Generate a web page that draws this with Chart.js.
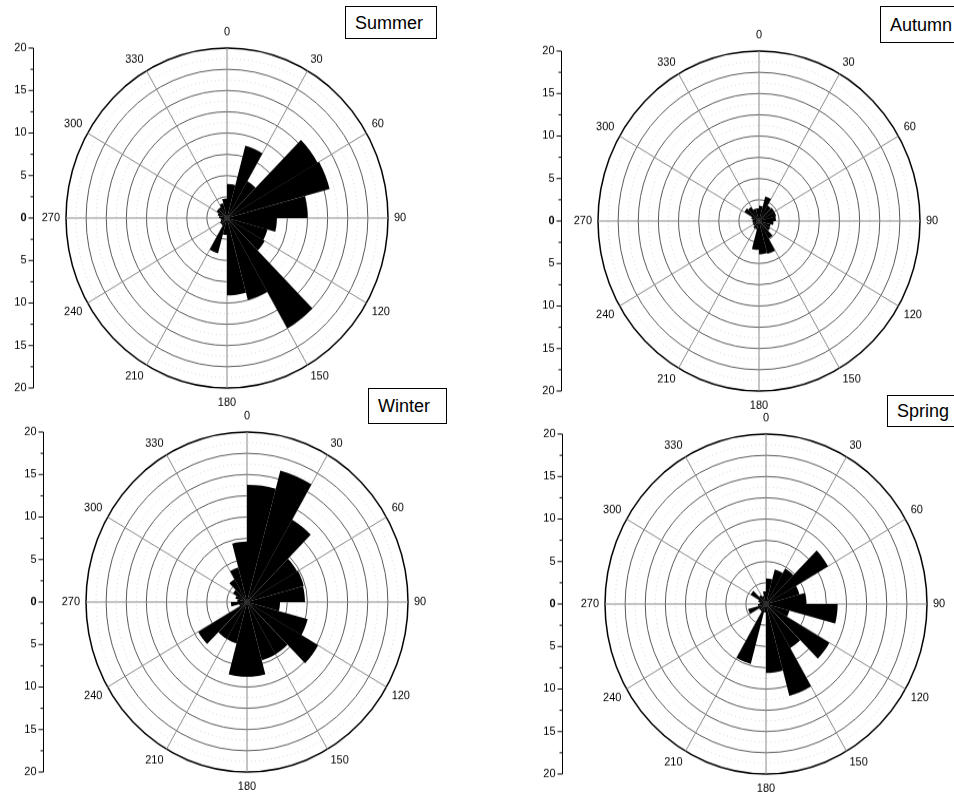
<!DOCTYPE html>
<html>
<head>
<meta charset="utf-8">
<script src="https://cdn.jsdelivr.net/npm/chart.js@4.4.0/dist/chart.umd.min.js"></script>
<style>
html, body { margin: 0; padding: 0; background: #fff; overflow: hidden; }
body { width: 954px; height: 793px; position: relative; font-family: "Liberation Sans", Arial, sans-serif; }
canvas.rose { position: absolute; }
.tag { position: absolute; border: 1px solid #000; background: #fff; font-size: 18px; line-height: 1; color: #000;
       box-sizing: border-box; display: flex; align-items: center; padding-left: 9px; white-space: nowrap; }
</style>
</head>
<body>
<script>
// sector start angles (15 degree sectors, clockwise from north)
var sectorStarts = [0, 15, 30, 45, 60, 75, 90, 105, 120, 135, 150, 165,
                    180, 195, 210, 225, 240, 255, 270, 285, 300, 315, 330, 345];
var angleTicks = [0, 30, 60, 90, 120, 150, 180, 210, 240, 270, 300, 330];
var axisTicks = [-20, -15, -10, -5, 0, 5, 10, 15, 20];

var summer = [4.0, 8.8, 5.0, 13.0, 13.2, 10.0, 6.2, 5.2, 5.4, 15.0, 10.0, 9.1,
              2.0, 4.3, 1.0, 1.0, 0.8, 0.8, 1.0, 1.2, 1.5, 1.5, 1.8, 2.3];
var autumn = [1.8, 3.0, 2.1, 2.2, 2.2, 2.1, 1.8, 1.5, 1.6, 2.4, 4.0, 3.9,
              3.4, 1.0, 1.0, 0.8, 0.8, 0.8, 0.8, 1.0, 2.1, 1.9, 1.5, 1.5];
var winter = [13.8, 16.0, 11.2, 7.2, 7.3, 7.2, 4.1, 7.8, 10.2, 7.1, 7.1, 8.8,
              8.8, 5.0, 5.0, 7.0, 1.0, 2.0, 1.2, 1.5, 2.0, 3.1, 4.2, 7.1];
var spring = [3.0, 4.2, 4.8, 8.9, 4.3, 5.0, 8.9, 3.0, 9.1, 6.0, 11.2, 8.1,
              1.0, 7.3, 1.0, 1.0, 2.3, 1.0, 0.8, 1.0, 2.2, 1.2, 1.0, 1.5];

var R = 161;            // horizontal radius of the rose
var k = 170 / 161;      // vertical stretch of the original plot
var W = 480, H = 382, PAD = 30;

var panels = [
  { name: 'Summer', data: summer, cx: 227, cy: 218, axisGap: 194, box: [345, 6, 92, 33] },
  { name: 'Autumn', data: autumn, cx: 759, cy: 221, axisGap: 198, box: [880, 6, 90, 37] },
  { name: 'Winter', data: winter, cx: 247, cy: 602, axisGap: 204, box: [368, 388, 79, 36] },
  { name: 'Spring', data: spring, cx: 766, cy: 604, axisGap: 204, box: [887, 395, 80, 32] }
];

function putText(ctx, txt, x, y, align, base) {
  ctx.save();
  ctx.translate(x, y);
  ctx.scale(1, 1 / k);
  ctx.textAlign = align;
  ctx.textBaseline = base;
  ctx.fillText(txt, 0, 0);
  ctx.restore();
}

var roseDecor = {
  id: 'roseDecor',
  afterDraw: function (chart, args, opts) {
    var s = chart.scales.r, ctx = chart.ctx;
    var cx = s.xCenter, cy = s.yCenter;
    ctx.save();
    ctx.fillStyle = '#000';
    ctx.strokeStyle = '#000';
    ctx.lineWidth = 1;

    // left radius axis
    var ax = Math.round(cx - opts.axisGap) + 0.5;
    var yOf = function (v) {
      var d = s.getDistanceFromCenterForValue(Math.abs(v));
      return cy + (v < 0 ? -d : d);
    };
    ctx.beginPath();
    ctx.moveTo(ax, yOf(axisTicks[0]));
    ctx.lineTo(ax, yOf(axisTicks[axisTicks.length - 1]));
    ctx.stroke();
    axisTicks.forEach(function (v, i) {
      var y = yOf(v);
      ctx.beginPath();
      ctx.moveTo(ax - 5, y);
      ctx.lineTo(ax, y);
      ctx.stroke();
      if (i < axisTicks.length - 1) {
        var ym = yOf((v + axisTicks[i + 1]) / 2);
        ctx.beginPath();
        ctx.moveTo(ax - 3, ym);
        ctx.lineTo(ax, ym);
        ctx.stroke();
      }
      ctx.font = (v === 0 ? 'bold ' : '') + '11px "Liberation Sans", Arial, sans-serif';
      putText(ctx, String(Math.abs(v)), ax - 7, y, 'right', 'middle');
    });

    // angle labels
    ctx.font = '11px "Liberation Sans", Arial, sans-serif';
    angleTicks.forEach(function (a) {
      var idx = sectorStarts.indexOf(a);
      var p = s.getPointPosition(idx, s.drawingArea + 6);
      var align = (a === 0 || a === 180) ? 'center' : (a < 180 ? 'left' : 'right');
      var base = (a === 90 || a === 270) ? 'middle' : ((a < 90 || a > 270) ? 'bottom' : 'top');
      if (a === 0) p.y -= 4;
      if (a === 180) p.y += 3;
      putText(ctx, String(a), p.x, p.y, align, base);
    });
    ctx.restore();
  }
};

panels.forEach(function (p) {
  var cv = document.createElement('canvas');
  cv.className = 'rose';
  cv.width = W;
  cv.height = H;
  cv.style.width = W + 'px';
  cv.style.height = H + 'px';
  cv.style.left = (p.cx - W / 2) + 'px';
  cv.style.top = (p.cy - (PAD + R)) + 'px';
  cv.style.transformOrigin = '0 ' + (PAD + R) + 'px';
  cv.style.transform = 'scaleY(' + k + ')';
  document.body.appendChild(cv);

  new Chart(cv.getContext('2d'), {
    type: 'polarArea',
    data: {
      labels: sectorStarts.map(String),
      datasets: [{
        data: p.data,
        backgroundColor: '#000',
        borderWidth: 0
      }]
    },
    options: {
      responsive: false,
      animation: false,
      events: [],
      layout: { padding: { left: W / 2 - R, right: W / 2 - R, top: PAD, bottom: PAD } },
      plugins: {
        legend: { display: false },
        tooltip: { enabled: false },
        roseDecor: { axisGap: p.axisGap }
      },
      scales: {
        r: {
          min: 0,
          max: 20,
          startAngle: 0,
          ticks: { display: false, stepSize: 1.25 },
          pointLabels: { display: false },
          grid: {
            circular: true,
            color: function (c) { return c.tick.value === 20 ? '#000' : (c.index % 2 ? '#d4d4d4' : '#5a5a5a'); },
            lineWidth: function (c) { return c.tick.value === 20 ? 1.5 : 1; }
          },
          border: {
            dash: function (c) { return c.index % 2 ? [1, 3] : []; }
          },
          angleLines: {
            display: true,
            color: '#8a8a8a',
            lineWidth: function (c) { return c.index % 2 ? 0 : 1; }
          }
        }
      }
    },
    plugins: [roseDecor]
  });

  var tag = document.createElement('div');
  tag.className = 'tag';
  tag.textContent = p.name;
  tag.style.left = p.box[0] + 'px';
  tag.style.top = p.box[1] + 'px';
  tag.style.width = p.box[2] + 'px';
  tag.style.height = p.box[3] + 'px';
  document.body.appendChild(tag);
});
</script>
</body>
</html>
